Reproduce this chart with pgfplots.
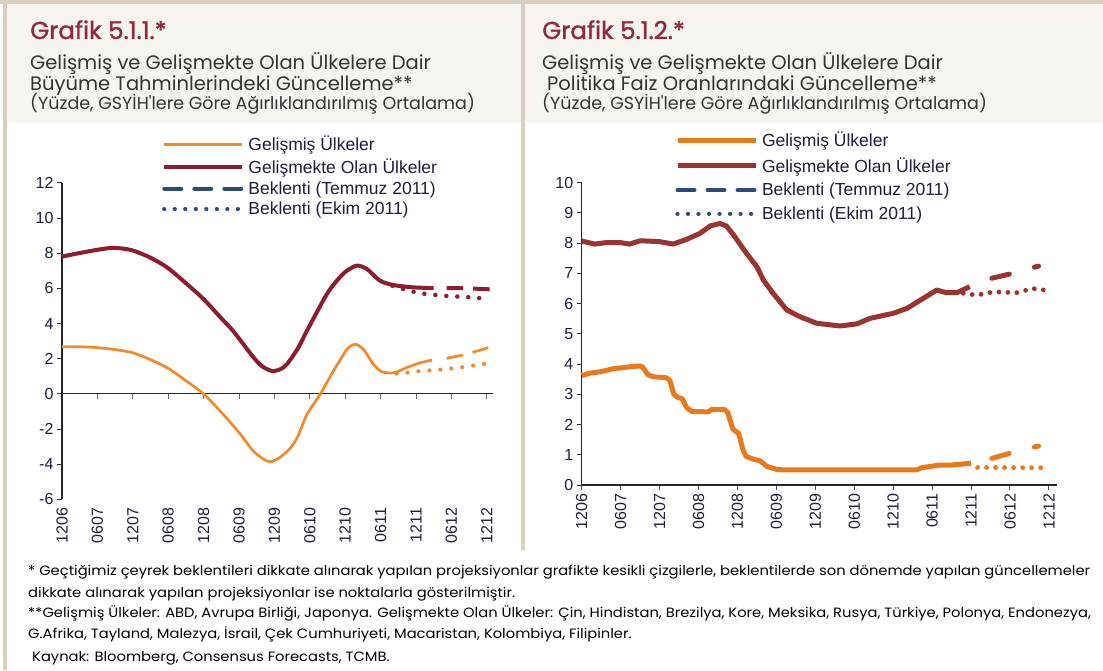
\documentclass[border=0pt]{standalone}
\usepackage{fontspec}
\usepackage{graphicx}
\usepackage{pgfplots}
\pgfplotsset{compat=1.18}
\setmainfont{Liberation Sans}
\newfontfamily\titlefont[FakeBold=1.2]{Poppins}
\newfontfamily\subfont{Poppins}
\newfontfamily\fnfont{Poppins}
\newcommand\legfont{\fontsize{17.5}{20}\selectfont}
\newcommand\tickfont{\fontsize{16}{18}\selectfont}
\newcommand\fnsize{\fnfont\fontsize{13.5}{15}\selectfont}
\newcommand\subA{\subfont\fontsize{19.5}{22}\selectfont}
\newcommand\subB{\subfont\fontsize{17.5}{20}\selectfont}
\newcommand\titA{\titlefont\fontsize{24.5}{28}\selectfont}
\newlength\fnw
\definecolor{lorange}{HTML}{F28A2A}
\definecolor{lmaroon}{HTML}{8C1D2E}
\definecolor{rorange}{HTML}{E87A1E}
\definecolor{rmaroon}{HTML}{9A3431}
\definecolor{navy}{HTML}{2C4A7A}
\definecolor{titred}{HTML}{8E2A3A}
\definecolor{subgray}{HTML}{333333}
\definecolor{band}{HTML}{F6F4EE}
\definecolor{bordc}{HTML}{D8CFBF}
\definecolor{tickc}{HTML}{1E1E3C}
\pgfplotsset{
  myax/.style={
    scale only axis, axis y line*=left, axis x line*=bottom,
    tick align=outside, major tick length=5pt,
    y axis line style={draw=black!85, line width=1.2pt},
    y tick style={draw=black!80, line width=1pt},
    xticklabel style={rotate=90, anchor=east, font=\tickfont, text=tickc},
    yticklabel style={font=\tickfont, text=tickc},
    xtick={0,6,...,72},
    xticklabels={1206,0607,1207,0608,1208,0609,1209,0610,1210,0611,1211,0612,1212},
    legend cell align=left,
    legend image code/.code={\draw[##1] (0pt,0pt) -- (78pt,0pt);},
    clip=false,
  },
  dotproj/.style={dash pattern=on 0.01pt off 11pt, line cap=round},
}
\begin{document}
\settowidth\fnw{\fnsize * Geçtiğimiz çeyrek beklentileri dikkate alınarak yapılan projeksiyonlar grafikte kesikli çizgilerle, beklentilerde son dönemde yapılan  güncellemeler}%
\pgfmathsetmacro\fns{1062/\fnw}%
\begin{tikzpicture}[x=1pt,y=1pt]
\fill[white] (0,0) rectangle (1103,670);
\fill[band] (5,548) rectangle (1103,666);
\fill[bordc] (0,666) rectangle (1103,670);
\fill[bordc] (3,0) rectangle (7,670);
\fill[bordc] (521,120) rectangle (525,670);
% titles
\node[anchor=base west, inner sep=0, text=titred] at (30,631) {\titA Grafik 5.1.1.*};
\node[anchor=base west, inner sep=0, text=subgray] at (30,600) {\subA Gelişmiş ve Gelişmekte Olan Ülkelere Dair};
\node[anchor=base west, inner sep=0, text=subgray] at (30,579) {\subA Büyüme Tahminlerindeki Güncelleme**};
\node[anchor=base west, inner sep=0, text=subgray] at (30,560) {\subB (Yüzde, GSYİH'lere Göre Ağırlıklandırılmış Ortalama)};
\node[anchor=base west, inner sep=0, text=titred] at (542,631) {\titA Grafik 5.1.2.*};
\node[anchor=base west, inner sep=0, text=subgray] at (542,600) {\subA Gelişmiş ve Gelişmekte Olan Ülkelere Dair};
\node[anchor=base west, inner sep=0, text=subgray] at (547,579) {\subA Politika Faiz Oranlarındaki Güncelleme**};
\node[anchor=base west, inner sep=0, text=subgray] at (542,560) {\subB (Yüzde, GSYİH'lere Göre Ağırlıklandırılmış Ortalama)};

% ---------------- left chart
\begin{axis}[myax,
  at={(62pt,170.7pt)}, anchor=south west, width=430.7pt, height=316.3pt,
  xmin=0, xmax=73, ymin=-6, ymax=12,
  x axis line style={draw=none}, x tick style={draw=none},
  ytick={-6,-4,...,12}, yticklabels={-6,-4,-2,0,2,4,6,8,10,12},
  legend style={at={(0.232,1.152)}, anchor=north west, draw=none, fill=none,
    font=\legfont, text=tickc, row sep=4.5pt, inner sep=0pt,
    nodes={inner xsep=4pt, inner ysep=1pt}},
]
\addlegendimage{lorange, line width=2.7pt}
\addlegendentry{Gelişmiş Ülkeler}
\addlegendimage{lmaroon, line width=4pt}
\addlegendentry{Gelişmekte Olan Ülkeler}
\addlegendimage{navy, line width=4pt, dash pattern=on 17pt off 13pt, line cap=round}
\addlegendentry{Beklenti (Temmuz 2011)}
\addlegendimage{navy, line width=4.3pt, dash pattern=on 0.01pt off 10.5pt, line cap=round}
\addlegendentry{Beklenti (Ekim 2011)}
\draw[black!85, line width=1.2pt] (axis cs:0,0) -- (axis cs:73,0);
\pgfplotsinvokeforeach{6,12,...,72}{\draw[black!60, line width=1pt] (axis cs:#1,0) -- ++(0pt,-5pt);}
% Gelismis (orange)
\addplot[lorange, line width=2.7pt, smooth, tension=0.45, forget plot] coordinates {
(0,2.69) (3,2.68) (6,2.63) (9,2.52) (12,2.34) (15,1.95) (18,1.45) (21,0.75) (24,0.0)
(27,-1.05) (30,-2.2) (32.5,-3.28) (34.5,-3.78) (35.6,-3.85) (37,-3.6) (38.7,-3.09)
(40,-2.4) (41.5,-1.18) (43.8,0) (46,1.30) (48.3,2.53) (49.7,2.82) (51.1,2.53)
(52.8,1.68) (54.2,1.26) (56.2,1.2) (58.4,1.49) (60.7,1.77) (62.7,1.92)};
\addplot[lorange, line width=2.7pt, dash pattern=on 16.5pt off 10pt, forget plot] coordinates {
(65.2,2.02) (68.5,2.25) (72.5,2.65)};
\addplot[lorange, line width=4.2pt, dotproj, forget plot] coordinates {
(56.7,1.15) (58.4,1.2) (60.7,1.3) (64.6,1.39) (67.5,1.5) (72,1.73)};
% Gelismekte (maroon)
\addplot[lmaroon, line width=4pt, smooth, tension=0.45, forget plot] coordinates {
(0,7.81) (2,7.95) (3.7,8.06) (6,8.2) (8.2,8.30) (10,8.28) (12.1,8.15) (15,7.75)
(17.8,7.2) (21,6.3) (24,5.39) (27,4.3) (29,3.58) (32.5,2.06) (34,1.55) (35.6,1.30)
(37,1.4) (38.1,1.68) (40,2.6) (41.5,3.58) (44.9,5.68) (47,6.6) (48.3,7.01) (50,7.30)
(51.7,7.10) (53.9,6.44) (56.2,6.19) (59.6,6.06) (63,6.02)};
\addplot[lmaroon, line width=4pt, dash pattern=on 16.5pt off 10pt, forget plot] coordinates {
(65.2,6.02) (68.5,6.01) (72.5,5.95)};
\addplot[lmaroon, line width=4.5pt, dotproj, forget plot] coordinates {
(56,6.15) (58,5.95) (60.7,5.72) (64.6,5.58) (69.7,5.49) (72,5.4)};
\end{axis}

% ---------------- right chart
\begin{axis}[myax,
  at={(581.7pt,185pt)}, anchor=south west, width=475pt, height=302.3pt,
  xmin=0, xmax=73.2, ymin=0, ymax=10,
  x axis line style={draw=black!85, line width=1.2pt},
  x tick style={draw=black!70, line width=1pt},
  ytick={0,1,...,10}, yticklabels={0,1,2,3,4,5,6,7,8,9,10},
  legend style={at={(0.196,1.171)}, anchor=north west, draw=none, fill=none,
    font=\legfont, text=tickc, row sep=7.3pt, inner sep=0pt,
    nodes={inner xsep=4pt, inner ysep=1pt}},
]
\addlegendimage{rorange, line width=5pt}
\addlegendentry{Gelişmiş Ülkeler}
\addlegendimage{rmaroon, line width=5pt}
\addlegendentry{Gelişmekte Olan Ülkeler}
\addlegendimage{navy, line width=4pt, dash pattern=on 17pt off 13pt, line cap=round}
\addlegendentry{Beklenti (Temmuz 2011)}
\addlegendimage{navy, line width=4.3pt, dash pattern=on 0.01pt off 10.5pt, line cap=round}
\addlegendentry{Beklenti (Ekim 2011)}
\addplot[rorange, line width=5pt, line join=round, forget plot] coordinates {
(0,3.62) (1.3,3.70) (3,3.75) (4.9,3.85) (6.4,3.88) (7.4,3.91) (9.0,3.94) (9.4,3.9)
(10.2,3.65) (11,3.58) (13,3.55) (13.6,3.45) (14.2,3.0) (14.8,2.9) (15.5,2.85)
(16.2,2.55) (17,2.43) (19.5,2.42) (20,2.5) (22,2.5) (22.5,2.4) (23.3,1.85) (24.2,1.7)
(24.8,1.2) (25.3,0.95) (26.5,0.85) (27.5,0.8) (28.5,0.62) (30,0.52) (31,0.5)
(51.6,0.5) (52.5,0.58) (54,0.62) (55,0.66) (57,0.66) (59,0.7) (60,0.72)};
\addplot[rorange, line width=5pt, dash pattern=on 18pt off 26pt, line cap=round, forget plot] coordinates {
(63.2,0.88) (66,1.05) (70,1.27) (70.4,1.29)};
\addplot[rorange, line width=4.8pt, dash pattern=on 0.01pt off 9pt, line cap=round, forget plot] coordinates {
(61,0.58) (72,0.57)};
\addplot[rmaroon, line width=5pt, line join=round, forget plot] coordinates {
(0,8.07) (2,7.97) (3.85,8.02) (5.9,8.02) (7.4,7.97) (9,8.08) (12,8.05) (14.1,7.97)
(16.2,8.13) (18.2,8.32) (19.8,8.57) (21.3,8.65) (22.3,8.57) (23.4,8.27) (25.4,7.66)
(27,7.22) (28,6.78) (29.5,6.34) (31.6,5.79) (33.6,5.57) (36.2,5.35) (39.8,5.26)
(42.4,5.33) (44.4,5.51) (48,5.68) (50.1,5.84) (52.6,6.17) (54.7,6.45) (56.2,6.36)
(57.8,6.36) (59.8,6.56)};
\addplot[rmaroon, line width=5pt, dash pattern=on 18pt off 26pt, line cap=round, forget plot] coordinates {
(63.2,6.84) (66,6.98) (70,7.22) (70.4,7.24)};
\addplot[rmaroon, line width=4.8pt, dash pattern=on 0.01pt off 9pt, line cap=round, forget plot] coordinates {
(58.8,6.34) (60.9,6.28) (63.5,6.39) (67,6.36) (69.5,6.5) (72,6.43)};
\end{axis}

% ---------------- footnotes
\node[anchor=base west, inner sep=0, text=black] at (28,95) {\scalebox{\fns}[1]{\fnsize * Geçtiğimiz çeyrek beklentileri dikkate alınarak yapılan projeksiyonlar grafikte kesikli çizgilerle, beklentilerde son dönemde yapılan  güncellemeler}};
\node[anchor=base west, inner sep=0, text=black] at (28,73) {\scalebox{\fns}[1]{\fnsize dikkate alınarak yapılan projeksiyonlar ise noktalarla gösterilmiştir.}};
\node[anchor=base west, inner sep=0, text=black] at (28,53) {\scalebox{\fns}[1]{\fnsize **Gelişmiş Ülkeler: ABD, Avrupa Birliği, Japonya. Gelişmekte Olan Ülkeler: Çin, Hindistan, Brezilya, Kore, Meksika, Rusya, Türkiye, Polonya, Endonezya,}};
\node[anchor=base west, inner sep=0, text=black] at (28,32) {\scalebox{\fns}[1]{\fnsize G.Afrika, Tayland, Malezya, İsrail, Çek Cumhuriyeti, Macaristan, Kolombiya, Filipinler.}};
\node[anchor=base west, inner sep=0, text=black] at (32,9) {\scalebox{\fns}[1]{\fnsize Kaynak: Bloomberg, Consensus Forecasts, TCMB.}};
\end{tikzpicture}
\end{document}
